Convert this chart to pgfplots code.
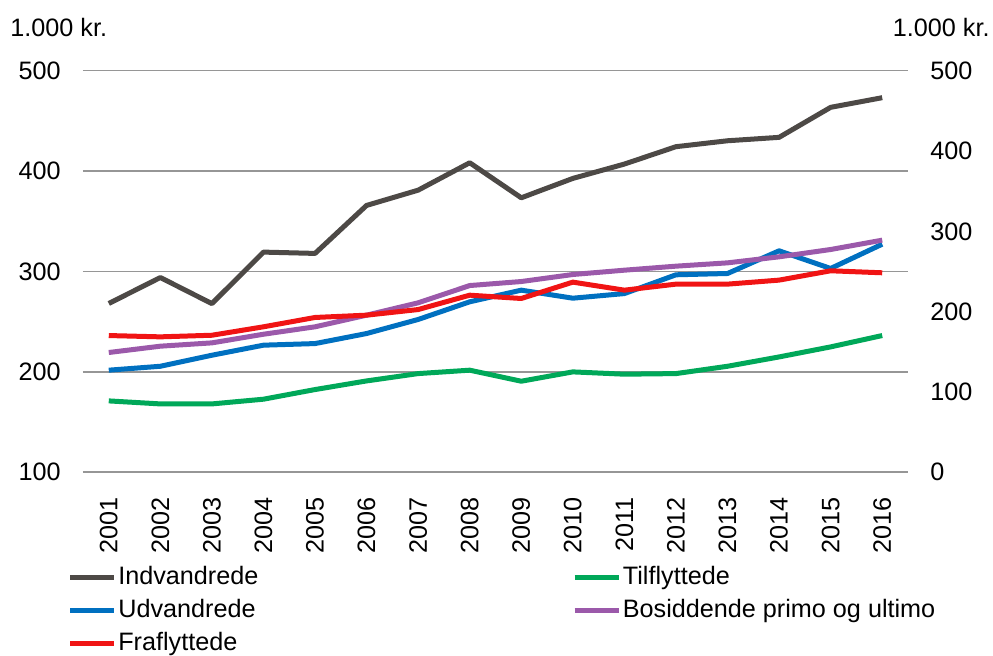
\documentclass[border=0pt]{standalone}
\usepackage{fontspec}
\setmainfont{Liberation Sans}
\usepackage{pgfplots}
\usepackage{pgfplotstable}
\pgfplotsset{compat=1.18}
\definecolor{cInd}{RGB}{77,73,70}
\definecolor{cTil}{RGB}{0,168,89}
\definecolor{cUdv}{RGB}{0,112,192}
\definecolor{cBos}{RGB}{155,89,170}
\definecolor{cFra}{RGB}{240,20,20}
\definecolor{cGrid}{RGB}{150,150,150}
\pgfplotstableread{
year ind til udv bos fra
2001 268.1 171.1 201.7 219.3 236.2
2002 294.0 168.1 205.6 225.6 234.9
2003 268.0 168.1 216.6 228.9 236.5
2004 319.3 172.8 226.6 237.5 244.9
2005 318.0 182.4 228.2 244.9 254.2
2006 365.8 191.0 238.2 256.5 256.5
2007 381.0 198.3 252.2 268.8 262.1
2008 408.3 201.7 269.8 286.0 276.4
2009 373.4 190.7 281.4 290.0 273.1
2010 392.7 200.0 273.4 297.0 289.4
2011 407.0 197.7 278.0 301.3 281.4
2012 424.3 198.3 296.7 305.3 287.4
2013 430.2 205.6 298.0 308.6 287.4
2014 433.6 214.9 320.6 314.6 291.4
2015 463.5 224.9 303.0 321.9 300.7
2016 473.1 236.2 327.2 331.2 298.7
}\datatable
\begin{document}
\fontsize{12.6}{15}\selectfont
\begin{tikzpicture}
\pgfplotsset{common/.style={
  width=412.5pt, height=200.8pt, scale only axis,
  xmin=2000.5, xmax=2016.5,
  /pgf/number format/assume math mode=true,
  major tick length=0pt,
  axis line style={draw=none},
}}
\begin{axis}[common,
  clip mode=individual,
  ymin=100, ymax=500, ytick={100,200,...,500},
  ymajorgrids, grid style={color=cGrid, line width=0.8pt},
  xtick={2001,...,2016},
  xticklabel style={/pgf/number format/1000 sep={}, rotate=90, anchor=east, inner sep=0pt},
  xticklabel shift=12.5pt,
  yticklabel style={inner sep=0pt, anchor=east},
  yticklabel shift=11pt,
  legend columns=2,
  legend cell align=left,
  legend style={at={(rel axis cs:-0.019,-0.228)}, anchor=north west, draw=none, fill=none,
    inner sep=0pt, row sep=3.5pt, nodes={inner sep=1pt}},
  legend image code/.code={\draw[#1, line width=2.3pt] (0pt,0pt) -- (22pt,0pt);},
  every axis plot/.append style={line width=2.5pt, line join=round},
]
\addplot[color=cInd] table[x=year,y=ind] {\datatable};
\addlegendentry{\makebox[226pt][l]{Indvandrede}}
\addplot[color=cTil] table[x=year,y=til] {\datatable};
\addlegendentry{Tilflyttede}
\addplot[color=cUdv] table[x=year,y=udv] {\datatable};
\addlegendentry{\makebox[226pt][l]{Udvandrede}}
\addplot[color=cBos] table[x=year,y=bos] {\datatable};
\addlegendentry{Bosiddende primo og ultimo}
\addplot[color=cFra] table[x=year,y=fra] {\datatable};
\addlegendentry{Fraflyttede}
\node[anchor=west, inner sep=0pt] at (rel axis cs:-0.0885,1.108) {1.000 kr.};
\node[anchor=east, inner sep=0pt] at (rel axis cs:1.0994,1.108) {1.000 kr.};
\end{axis}
\begin{axis}[common,
  ymin=0, ymax=500, ytick={0,100,...,500},
  axis y line*=right, hide x axis,
  yticklabel style={inner sep=0pt, anchor=west},
  yticklabel shift=11pt,
]
\end{axis}
\pgfresetboundingbox
\path[use as bounding box] (-41.5pt,-91.85pt) rectangle (455pt,236.15pt);
\end{tikzpicture}
\end{document}
